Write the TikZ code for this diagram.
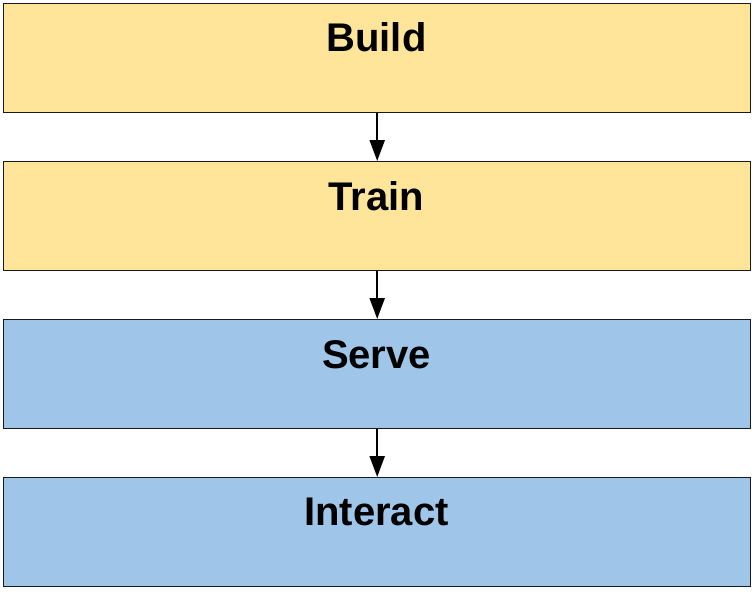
\documentclass[tikz,border=0pt]{standalone}
\usepackage{fontspec}
\setmainfont{Liberation Sans}
\usetikzlibrary{arrows.meta}
\definecolor{byellow}{HTML}{FFE599}
\definecolor{bblue}{HTML}{9FC5E8}
\definecolor{bline}{HTML}{1A1A1A}
\begin{document}
\begin{tikzpicture}[x=1pt,y=1pt,
  stagebox/.style={draw=bline,line width=1.4pt,minimum width=747pt,minimum height=109pt,inner sep=0pt,anchor=north west},
  stagelabel/.style={anchor=base,font=\fontsize{40}{48}\selectfont\bfseries,inner sep=0pt},
  flow/.style={-{Triangle[length=21pt,width=15pt]},line width=2.2pt,black}]
\useasboundingbox (0,0) rectangle (754,-594);
\node[stagebox,fill=byellow] (b1) at (3,-3) {};
\node[stagebox,fill=byellow] (b2) at (3,-161) {};
\node[stagebox,fill=bblue] (b3) at (3,-319) {};
\node[stagebox,fill=bblue] (b4) at (3,-477) {};
\node[stagelabel] (t1) at (376.5,-52) {Build};
\node[stagelabel] (t2) at (376.5,-210) {Train};
\node[stagelabel] (t3) at (376.5,-368) {Serve};
\node[stagelabel] (t4) at (376.5,-525) {Interact};
\draw[flow] (b1.south) -- (b2.north);
\draw[flow] (b2.south) -- (b3.north);
\draw[flow] (b3.south) -- (b4.north);
\end{tikzpicture}
\end{document}
